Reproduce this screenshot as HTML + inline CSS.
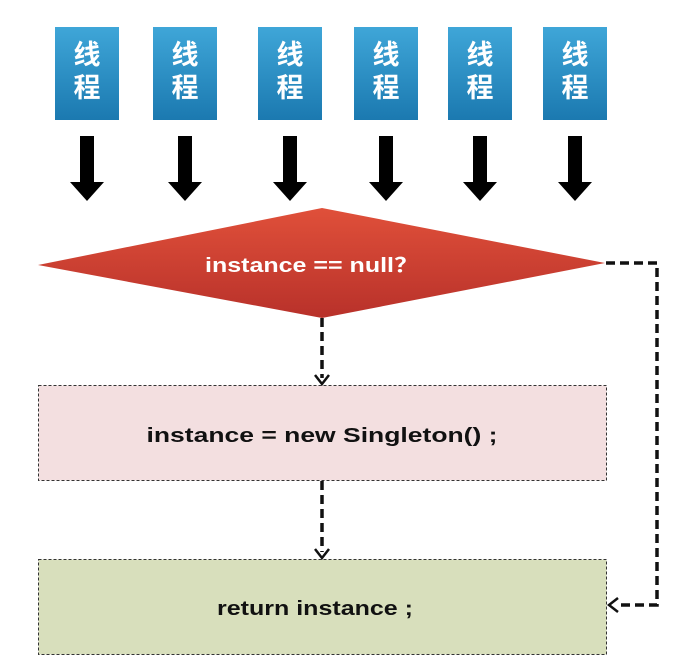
<!DOCTYPE html>
<html><head><meta charset="utf-8"><style>
html,body{margin:0;padding:0;background:#fff;width:687px;height:672px;overflow:hidden}
svg{display:block}
</style></head><body>
<svg width="687" height="672" viewBox="0 0 687 672" xmlns="http://www.w3.org/2000/svg">
<defs>
<linearGradient id="bg" x1="0" y1="0" x2="0" y2="1">
<stop offset="0" stop-color="#3fa6d8"/><stop offset="1" stop-color="#1b79b0"/>
</linearGradient>
<linearGradient id="rg" x1="0" y1="0" x2="0" y2="1">
<stop offset="0" stop-color="#e0503a"/><stop offset="1" stop-color="#b8312a"/>
</linearGradient>
</defs>
<g id="threads"></g>
<g>
<polygon points="38,265 322,208 605,263 322,318" fill="url(#rg)"/>
<text x="312" y="272" font-family="'Liberation Sans','Noto Sans CJK SC',sans-serif" font-weight="bold" font-size="20" fill="#fff" text-anchor="middle" textLength="214" lengthAdjust="spacingAndGlyphs">instance == null？</text>
</g>
<g>
<rect x="38.5" y="385.5" width="568" height="95" fill="#f3dfe0" stroke="#333" stroke-width="1" stroke-dasharray="3,2"/>
<text x="322" y="442" font-family="'Liberation Sans',sans-serif" font-weight="bold" font-size="20" fill="#111" text-anchor="middle" textLength="351" lengthAdjust="spacingAndGlyphs">instance = new Singleton() ;</text>
</g>
<g>
<rect x="38.5" y="559.5" width="568" height="95" fill="#d8dfbc" stroke="#333" stroke-width="1" stroke-dasharray="3,2"/>
<text x="315" y="615" font-family="'Liberation Sans',sans-serif" font-weight="bold" font-size="20" fill="#111" text-anchor="middle" textLength="196" lengthAdjust="spacingAndGlyphs">return instance ;</text>
</g>
<g fill="none" stroke="#111" stroke-width="3.5" stroke-dasharray="9,5">
<path d="M322,318 V378"/>
<path d="M322,481 V552"/>
<path d="M606,263 H657 V605 H616"/>
</g>
<g fill="none" stroke="#111" stroke-width="2.5">
<path d="M315,375 L322,384 L329,375"/>
<path d="M315,549 L322,558 L329,549"/>
<path d="M618,598 L609,605 L618,612"/>
</g>
</svg>
<script>
const xs=[87,185,290,386,480,575];
const g=document.getElementById('threads');
const NS='http://www.w3.org/2000/svg';
xs.forEach((cx,i)=>{
 const r=document.createElementNS(NS,'rect');
 r.setAttribute('x',cx-32);r.setAttribute('y',27);r.setAttribute('width',64);r.setAttribute('height',93);r.setAttribute('fill','url(#bg)');
 
 
 g.appendChild(r);
 ['线','程'].forEach((c,j)=>{
  const t=document.createElementNS(NS,'text');
  t.setAttribute('x',cx);t.setAttribute('y',64+j*33);t.setAttribute('text-anchor','middle');
  t.setAttribute('font-family',"'Noto Sans CJK SC',sans-serif");t.setAttribute('font-size','27');t.setAttribute('font-weight','bold');t.setAttribute('fill','#fff');
  t.textContent=c;
  
  
  g.appendChild(t);
 });
 const a=document.createElementNS(NS,'polygon');
 a.setAttribute('points',`${cx-7},136 ${cx+7},136 ${cx+7},182 ${cx+17},182 ${cx},201 ${cx-17},182 ${cx-7},182`);
 a.setAttribute('fill','#000');
 
 
 g.appendChild(a);
});
</script>
</body></html>
